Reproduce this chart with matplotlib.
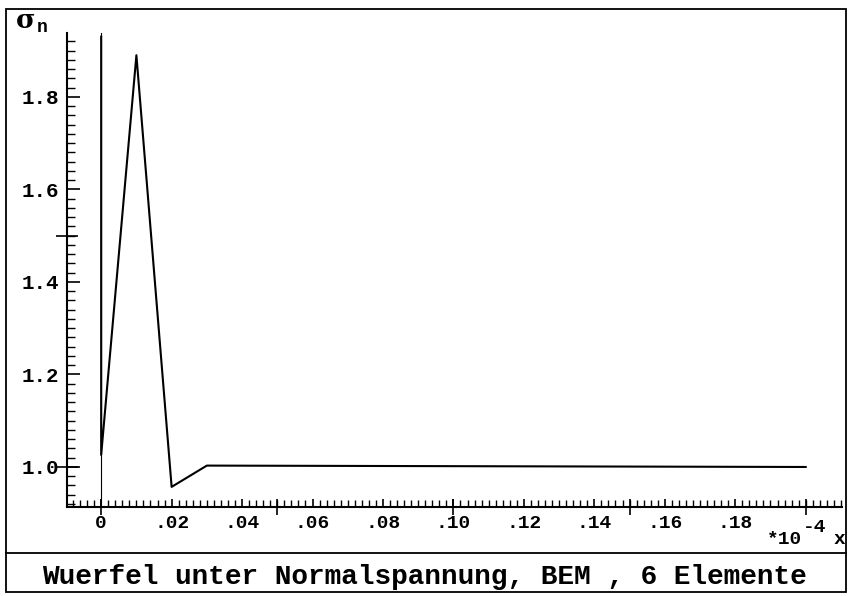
import numpy as np
import matplotlib.pyplot as plt
from matplotlib.patches import Rectangle
from matplotlib.lines import Line2D
from matplotlib.ticker import MultipleLocator, FixedLocator, FuncFormatter

# Werte (x in Einheiten von 1e-4)
x_werte = [0.0, 0.0, 0.01, 0.02, 0.03, 0.20]
sigma_n = [1.93, 1.026, 1.89, 0.957, 1.003, 1.0]

x_ticks = [0.0, 0.02, 0.04, 0.06, 0.08, 0.10, 0.12, 0.14, 0.16, 0.18]
titel = 'Wuerfel unter Normalspannung, BEM , 6 Elemente'
mono = ['Liberation Mono', 'DejaVu Sans Mono']

plt.rcParams['font.family'] = mono
plt.rcParams['font.weight'] = 'bold'

fig = plt.figure(figsize=(8.49, 5.96), dpi=100)
ax = fig.add_axes([67 / 849, 1 - 507 / 596, (842 - 67) / 849, (507 - 33) / 596])

# Achse x=0 als duenne Linie, dann die Kurve
ax.axvline(0, color='black', lw=0.8)
ax.plot(x_werte, sigma_n, color='black', lw=1.5)

ax.set_xlim(-0.0097, 0.2103)
ax.set_ylim(0.9135, 1.938)

for s in ['top', 'right']:
    ax.spines[s].set_visible(False)
for s in ['left', 'bottom']:
    ax.spines[s].set_linewidth(1.5)

ax.xaxis.set_major_locator(FixedLocator(x_ticks))
ax.xaxis.set_minor_locator(MultipleLocator(0.002))
ax.yaxis.set_major_locator(MultipleLocator(0.2))
ax.yaxis.set_minor_locator(MultipleLocator(0.02))

def x_fmt(v, pos):
    if abs(v) < 1e-9:
        return '0'
    return f'{v:.2f}'.lstrip('0')

ax.xaxis.set_major_formatter(FuncFormatter(x_fmt))
ax.yaxis.set_major_formatter(FuncFormatter(lambda v, p: f'{v:.1f}'))

ax.tick_params(axis='x', which='major', direction='in', length=6, width=1.2,
               pad=6, labelsize=14)
ax.tick_params(axis='x', which='minor', direction='in', length=5, width=1.0)
ax.tick_params(axis='y', which='major', direction='in', length=9, width=1.2,
               pad=6, labelsize=15)
ax.tick_params(axis='y', which='minor', direction='in', length=6, width=1.0)
for lab in ax.get_xticklabels() + ax.get_yticklabels():
    lab.set_fontweight('bold')

# durchgehende Striche alle 0.05 bzw. 0.5
secx = ax.secondary_xaxis('bottom')
secx.set_xticks(np.arange(0, 0.21, 0.05))
secx.tick_params(direction='inout', length=12, width=1.2, labelbottom=False)
secx.spines['bottom'].set_visible(False)
secy = ax.secondary_yaxis('left')
secy.set_yticks([1.0, 1.5])
secy.tick_params(direction='inout', length=16, width=1.2, labelleft=False)
secy.spines['left'].set_visible(False)

# Achsenbeschriftungen
fig.text(16 / 849, 1 - 21 / 596, 'σ', family='DejaVu Serif', fontsize=19,
         fontweight='bold', ha='left', va='center')
fig.text(37 / 849, 1 - 28 / 596, 'n', family=mono, fontsize=13,
         fontweight='bold', ha='left', va='center')
fig.text(802 / 849, 1 - 540 / 596, '*10', family=mono, fontsize=14,
         fontweight='bold', ha='right', va='center')
fig.text(803 / 849, 1 - 527 / 596, '-4', family=mono, fontsize=14,
         fontweight='bold', ha='left', va='center')
fig.text(839 / 849, 1 - 540 / 596, 'x', family=mono, fontsize=14,
         fontweight='bold', ha='center', va='center')

# Rahmen und Titelfeld
fig.add_artist(Rectangle((6 / 849, 1 - 592 / 596), (846 - 6) / 849, (592 - 9) / 596,
                         transform=fig.transFigure, fill=False, lw=1.3, color='black'))
fig.add_artist(Line2D([6 / 849, 846 / 849], [1 - 553 / 596] * 2,
                      transform=fig.transFigure, lw=1.3, color='black'))
fig.text(0.5, 1 - 577 / 596, titel, family=mono, fontsize=20, fontweight='bold',
         ha='center', va='center')

fig.savefig('out.png', dpi=100)
